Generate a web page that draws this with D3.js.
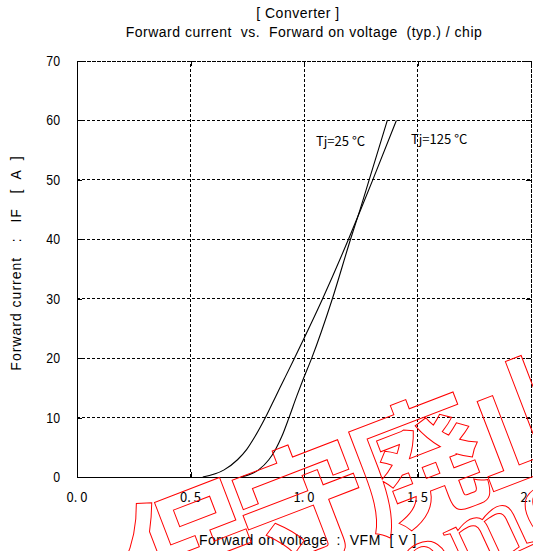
<!DOCTYPE html>
<html>
<head>
<meta charset="utf-8">
<script src="https://cdn.jsdelivr.net/npm/d3@7"></script>
<style>
  html, body { margin: 0; padding: 0; background: #fff; overflow: hidden; }
  #chart-wrapper { width: 533px; height: 551px; }
</style>
</head>
<body>
<div id="chart-wrapper"></div>
<script>
// Data
let if25 = [0, 1.2, 2.9, 4.6, 6.8, 10, 13.6, 16.4, 20, 30, 40, 45, 50, 60]
let vf25 = [0.722, 0.800, 0.845, 0.874, 0.902, 0.934, 0.968, 0.996, 1.034, 1.125, 1.205, 1.247, 1.287, 1.367]
let if125 = [0, 1.2, 2.9, 4.6, 6.8, 10, 13.6, 16.4, 20, 30, 40, 45, 50, 60]
let vf125 = [0.554, 0.648, 0.707, 0.747, 0.784, 0.830, 0.876, 0.912, 0.958, 1.082, 1.196, 1.250, 1.303, 1.407]
let xTicks = [0, 0.5, 1.0, 1.5, 2.0]
let xTickLabels = ["0. 0", "0. 5", "1. 0", "1. 5", "2. 0"]
let yTicks = [0, 10, 20, 30, 40, 50, 60, 70]

// Globals
let width = 533
let height = 551
let margin = {top: 61, right: 2, bottom: 74, left: 77}

// Configs
let config = {
  font: "'Liberation Sans', Arial, sans-serif",
  tickFont: "'Noto Sans CJK JP', 'Liberation Sans', sans-serif",
  grid: {dash: "3,2", color: "#000"},
  mark: {color: "#ff0000"}
}

const draw = () => {
  d3.select("#chart-wrapper").selectAll("*").remove()

  var svg = d3.select("#chart-wrapper")
    .append("svg")
    .attr("width", width)
    .attr("height", height)
    .style("font-family", config.font)

  var x = d3.scaleLinear().domain([0, 2]).range([margin.left, width - margin.right])
  var y = d3.scaleLinear().domain([0, 70]).range([height - margin.bottom, margin.top])
  var x0 = x.range()[0], x1 = x.range()[1]
  var y0 = y.range()[0], y1 = y.range()[1]

  // Title
  svg.append("text").attr("x", 298).attr("y", 18).attr("text-anchor", "middle")
    .attr("font-size", 14).attr("letter-spacing", 0.5).text("[ Converter ]")
  svg.append("text").attr("x", 304).attr("y", 37).attr("text-anchor", "middle")
    .attr("font-size", 14).attr("letter-spacing", 0.5).attr("xml:space", "preserve")
    .text("Forward current  vs.  Forward on voltage  (typ.) / chip")

  // Grid lines (dashed)
  var grid = svg.append("g").attr("stroke", config.grid.color).attr("stroke-width", 1)
    .attr("stroke-dasharray", config.grid.dash).attr("shape-rendering", "crispEdges")
  grid.selectAll(".gx").data(xTicks.slice(1)).join("line")
    .attr("x1", d => x(d)).attr("x2", d => x(d)).attr("y1", y0).attr("y2", y1)
  grid.selectAll(".gy").data(yTicks.slice(1)).join("line")
    .attr("x1", x0).attr("x2", x1).attr("y1", d => y(d)).attr("y2", d => y(d))

  // Axes (solid left / bottom) with inward ticks
  var xAxis = svg.append("g").attr("transform", `translate(0,${y0})`)
    .call(d3.axisTop(x).tickValues(xTicks).tickSize(5).tickFormat(""))
  var xAxisTop = svg.append("g").attr("transform", `translate(0,${y1})`)
    .call(d3.axisBottom(x).tickValues(xTicks).tickSize(5).tickFormat(""))
  var yAxis = svg.append("g").attr("transform", `translate(${x0},0)`)
    .call(d3.axisRight(y).tickValues(yTicks).tickSize(5).tickFormat(""))
  var yAxisRight = svg.append("g").attr("transform", `translate(${x1},0)`)
    .call(d3.axisLeft(y).tickValues(yTicks).tickSize(5).tickFormat(""))
  ;[xAxis, xAxisTop, yAxis, yAxisRight].forEach(a => a.selectAll("line,path")
    .attr("stroke", "#000").attr("shape-rendering", "crispEdges"))
  xAxisTop.select("path").attr("stroke-dasharray", config.grid.dash)
  yAxisRight.select("path").attr("stroke-dasharray", config.grid.dash)

  // Tick labels
  svg.append("g").selectAll("text").data(xTicks).join("text")
    .attr("x", d => x(d)).attr("y", y0 + 25).attr("text-anchor", "middle")
    .attr("font-family", config.tickFont).attr("font-size", 13).attr("xml:space", "preserve")
    .text((d, i) => xTickLabels[i])
  svg.append("g").selectAll("text").data(yTicks).join("text")
    .attr("x", x0 - 17).attr("y", d => y(d)).attr("dy", "0.36em").attr("text-anchor", "end")
    .attr("font-size", 14).attr("transform", d => `translate(${x0 - 17},0) scale(0.88,1) translate(${-(x0 - 17)},0)`)
    .text(d => d)

  // Axis titles
  svg.append("text").attr("x", 308).attr("y", 545).attr("text-anchor", "middle")
    .attr("font-size", 14).attr("letter-spacing", 0.5).attr("xml:space", "preserve")
    .text("Forward on voltage  :  VFM  [ V ]")
  svg.append("text").attr("transform", "translate(21,263) rotate(-90)").attr("text-anchor", "middle")
    .attr("font-size", 14).attr("letter-spacing", 1).attr("xml:space", "preserve")
    .text("Forward current   :   IF   [  A  ]")

  // Curves (voltage rises with current, so monotone in x)
  var line = d3.line().x(d => x(d[0])).y(d => y(d[1])).curve(d3.curveMonotoneX)
  var series = [
    {name: "Tj=25 °C", pts: vf25.map((v, i) => [v, if25[i]])},
    {name: "Tj=125 °C", pts: vf125.map((v, i) => [v, if125[i]])}
  ]
  svg.append("g").selectAll("path").data(series).join("path")
    .attr("d", d => line(d.pts)).attr("fill", "none").attr("stroke", "#000").attr("stroke-width", 1.1)

  // Curve labels
  svg.append("text").attr("x", 316).attr("y", 146).attr("font-size", 13)
    .attr("font-family", config.tickFont).text(series[0].name)
  svg.append("text").attr("x", 411).attr("y", 144).attr("font-size", 13)
    .attr("font-family", config.tickFont).text(series[1].name)

  // Red outlined watermark
  var wm = svg.append("g").attr("fill", "none").attr("stroke", config.mark.color).attr("stroke-width", 1)
  wm.append("text").attr("transform", "translate(145,620) rotate(-21)")
    .attr("font-family", "'Noto Sans CJK JP', sans-serif").attr("font-weight", 700)
    .attr("font-size", 132).attr("letter-spacing", -10).text("保守廃止")
  wm.append("text").attr("transform", "translate(414,600) rotate(-25)")
    .attr("font-family", "'Liberation Serif', 'DejaVu Serif', serif").attr("font-size", 105).text("ome")
}

draw()
</script>
</body>
</html>
